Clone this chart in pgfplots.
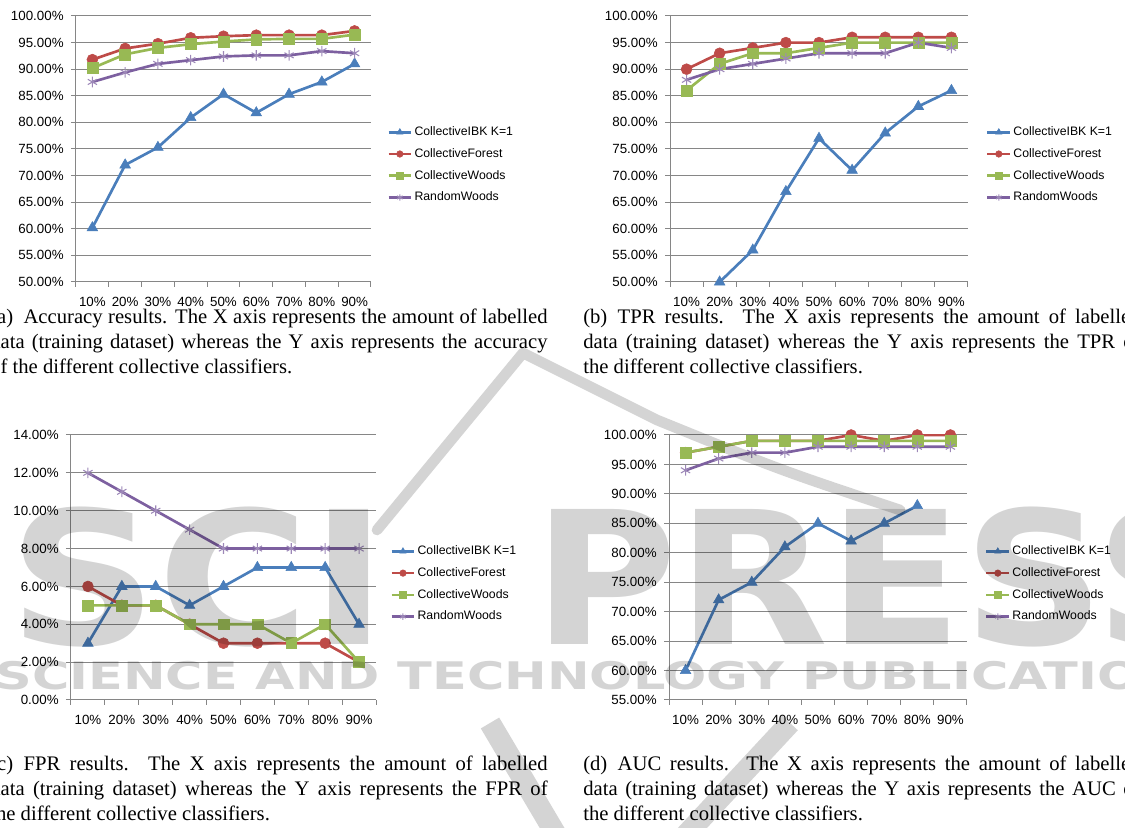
\documentclass[border=0pt]{standalone}
\usepackage{fontspec}
\setmainfont{Liberation Serif}
\newfontfamily\arial{Liberation Sans}
\newfontfamily\wm{DejaVu Sans Bold}
\usepackage{pgfplots}
\pgfplotsset{compat=1.18}
\definecolor{cblue}{RGB}{74,126,187}
\definecolor{cred}{RGB}{190,75,72}
\definecolor{cgreen}{RGB}{152,185,84}
\definecolor{cpurple}{RGB}{125,96,160}
\definecolor{gridgray}{RGB}{134,134,134}
\pgfplotsset{
 exc/.style={
  scale only axis,
  xmin=0.5,xmax=9.5,
  xtick={0.5,1.5,...,9.5},
  xticklabels={},
  extra x ticks={1,2,...,9},
  extra x tick labels={10\%,20\%,30\%,40\%,50\%,60\%,70\%,80\%,90\%},
  extra x tick style={major tick length=0pt, grid=none, xticklabel style={yshift=-7.5pt}},
  axis x line*=bottom, axis y line*=left,
  axis line style={-,gridgray,line width=0.75pt},
  tick style={gridgray,line width=0.75pt},
  tick align=outside,
  major tick length=3.75pt,
  ymajorgrids,
  grid style={gridgray,line width=0.75pt},
  ticklabel style={font=\arial\fontsize{10}{11}\selectfont, text=black},
  yticklabel style={xshift=-2pt},
  /pgf/number format/assume math mode=true,
  yticklabel={\pgfmathprintnumber[fixed,fixed zerofill,precision=2]{\tick}\%},
  legend style={draw=none,fill=none,font=\arial\fontsize{9.2}{11}\selectfont,
    anchor=north west, inner sep=0pt, row sep=4.3pt,
    nodes={inner sep=1.5pt, text height=7pt, text depth=2pt}},
  legend cell align=left,
  legend image code/.code={\draw[mark repeat=2,mark phase=2,##1, every mark/.append style={scale=0.6}] plot coordinates {(0pt,0pt)(8.5pt,0pt)(17pt,0pt)};},
  every axis plot/.append style={line width=2pt},
 },
 sIBK/.style={cblue, mark=triangle*, mark size=4.6pt, mark options={solid,fill=cblue,draw=cblue,line width=0.4pt}},
 sCF/.style={cred, mark=*, mark size=4.1pt, mark options={solid,fill=cred,draw=cred,line width=0.4pt}},
 sCW/.style={cgreen, mark=square*, mark size=4.1pt, mark options={solid,fill=cgreen,draw=cgreen,line width=0.4pt}},
 sRW/.style={cpurple, mark=asterisk, mark size=4pt, mark options={solid,draw=cpurple!75,line width=0.8pt}},
}
\begin{document}
\begin{tikzpicture}
\useasboundingbox (0,0) rectangle (843.75pt,621pt);
\clip (0,0) rectangle (843.75pt,621pt);
% (a) Accuracy
\begin{axis}[exc, at={(57pt,409.5pt)}, anchor=south west, width=221.25pt, height=199.5pt,
  ymin=50, ymax=100, ytick={50,55,...,100},
  legend style={at={(axis description cs:1.054,0.594)}}]
\addplot[sIBK] coordinates {(1,60.2)(2,72.0)(3,75.3)(4,80.9)(5,85.3)(6,81.8)(7,85.3)(8,87.6)(9,91.0)};
\addplot[sCF] coordinates {(1,91.8)(2,93.9)(3,94.8)(4,95.9)(5,96.2)(6,96.4)(7,96.4)(8,96.4)(9,97.2)};
\addplot[sCW] coordinates {(1,90.2)(2,92.8)(3,94.0)(4,94.7)(5,95.2)(6,95.6)(7,95.7)(8,95.7)(9,96.5)};
\addplot[sRW] coordinates {(1,87.6)(2,89.4)(3,91.0)(4,91.7)(5,92.4)(6,92.6)(7,92.6)(8,93.4)(9,93.0)};
\legend{CollectiveIBK K=1,CollectiveForest,CollectiveWoods,RandomWoods}
\end{axis}
% (b) TPR
\begin{axis}[exc, at={(502.5pt,409.5pt)}, anchor=south west, width=223.5pt, height=199.5pt,
  ymin=50, ymax=100, ytick={50,55,...,100},
  legend style={at={(axis description cs:1.060,0.594)}}]
\addplot[sIBK] coordinates {(2,50)(3,56)(4,67)(5,77)(6,71)(7,78)(8,83)(9,86)};
\addplot[sCF] coordinates {(1,90)(2,93)(3,94)(4,95)(5,95)(6,96)(7,96)(8,96)(9,96)};
\addplot[sCW] coordinates {(1,86)(2,91)(3,93)(4,93)(5,94)(6,95)(7,95)(8,95)(9,95)};
\addplot[sRW] coordinates {(1,88)(2,90)(3,91)(4,92)(5,93)(6,93)(7,93)(8,95)(9,94)};
\legend{CollectiveIBK K=1,CollectiveForest,CollectiveWoods,RandomWoods}
\end{axis}
% (c) FPR
\begin{axis}[exc, at={(53.25pt,96pt)}, anchor=south west, width=228.75pt, height=198.75pt,
  ymin=0, ymax=14, ytick={0,2,...,14},
  legend style={at={(axis description cs:1.046,0.592)}}]
\addplot[sIBK] coordinates {(1,3)(2,6)(3,6)(4,5)(5,6)(6,7)(7,7)(8,7)(9,4)};
\addplot[sCF] coordinates {(1,6)(2,5)(3,5)(4,4)(5,3)(6,3)(7,3)(8,3)(9,2)};
\addplot[sCW] coordinates {(1,5)(2,5)(3,5)(4,4)(5,4)(6,4)(7,3)(8,4)(9,2)};
\addplot[sRW] coordinates {(1,12)(2,11)(3,10)(4,9)(5,8)(6,8)(7,8)(8,8)(9,8)};
\legend{CollectiveIBK K=1,CollectiveForest,CollectiveWoods,RandomWoods}
\end{axis}
% (d) AUC
\begin{axis}[exc, at={(501.75pt,96pt)}, anchor=south west, width=223.5pt, height=198.75pt,
  ymin=55, ymax=100, ytick={55,60,...,100},
  legend style={at={(axis description cs:1.060,0.592)}}]
\addplot[sIBK] coordinates {(1,60)(2,72)(3,75)(4,81)(5,85)(6,82)(7,85)(8,88)};
\addplot[sCF] coordinates {(1,97)(2,98)(3,99)(4,99)(5,99)(6,100)(7,99)(8,100)(9,100)};
\addplot[sCW] coordinates {(1,97)(2,98)(3,99)(4,99)(5,99)(6,99)(7,99)(8,99)(9,99)};
\addplot[sRW] coordinates {(1,94)(2,96)(3,97)(4,97)(5,98)(6,98)(7,98)(8,98)(9,98)};
\legend{CollectiveIBK K=1,CollectiveForest,CollectiveWoods,RandomWoods}
\end{axis}
% captions
\tikzset{mycap/.style={anchor=base west, text width=418pt, align=justify, inner sep=0pt,
  font=\fontsize{15.5}{18.4}\selectfont}}
\node[mycap] at (-7.5pt,378pt) {(a)\enspace Accuracy results. The X axis represents the amount of labelled\linebreak data (training dataset) whereas the Y axis represents the accuracy\linebreak of the different collective classifiers.};
\node[mycap] at (437.25pt,378pt) {(b)\enspace TPR results. The X axis represents the amount of labelled\linebreak data (training dataset) whereas the Y axis represents the TPR of\linebreak the different collective classifiers.};
\node[mycap] at (-7.5pt,42.75pt) {(c)\enspace FPR results. The X axis represents the amount of labelled\linebreak data (training dataset) whereas the Y axis represents the FPR of\linebreak the different collective classifiers.};
\node[mycap] at (437.25pt,42.75pt) {(d)\enspace AUC results. The X axis represents the amount of labelled\linebreak data (training dataset) whereas the Y axis represents the AUC of\linebreak the different collective classifiers.};
% watermark (px -> pt: x*0.75, (828-y)*0.75)
\begin{scope}[opacity=0.17]
\node[anchor=base west, inner sep=0pt, font=\wm\fontsize{28.5}{28.5}\selectfont, xscale=1.34, transform shape] at (-3.75pt,103.5pt) {SCIENCE AND TECHNOLOGY PUBLICATIONS};
\node[anchor=base west, inner sep=0pt, font=\wm\fontsize{139}{139}\selectfont, xscale=1.12, transform shape] at (6pt,137.25pt) {SCI};
\node[anchor=base west, inner sep=0pt, font=\wm\fontsize{139}{139}\selectfont, xscale=1.06, transform shape] at (400pt,137.25pt) {PRESS};
\draw[line width=8pt, line join=round, line cap=round] (282.75pt,223.5pt) -- (392.25pt,356.25pt) -- (492.75pt,306pt) .. controls (585pt,268.5pt) .. (675pt,238.5pt);
\draw[line width=16pt] (367.5pt,78.75pt) -- (420pt,-10pt);
\draw[line width=16pt] (592.5pt,78.75pt) -- (510pt,-10pt);
\end{scope}
\end{tikzpicture}
\end{document}
